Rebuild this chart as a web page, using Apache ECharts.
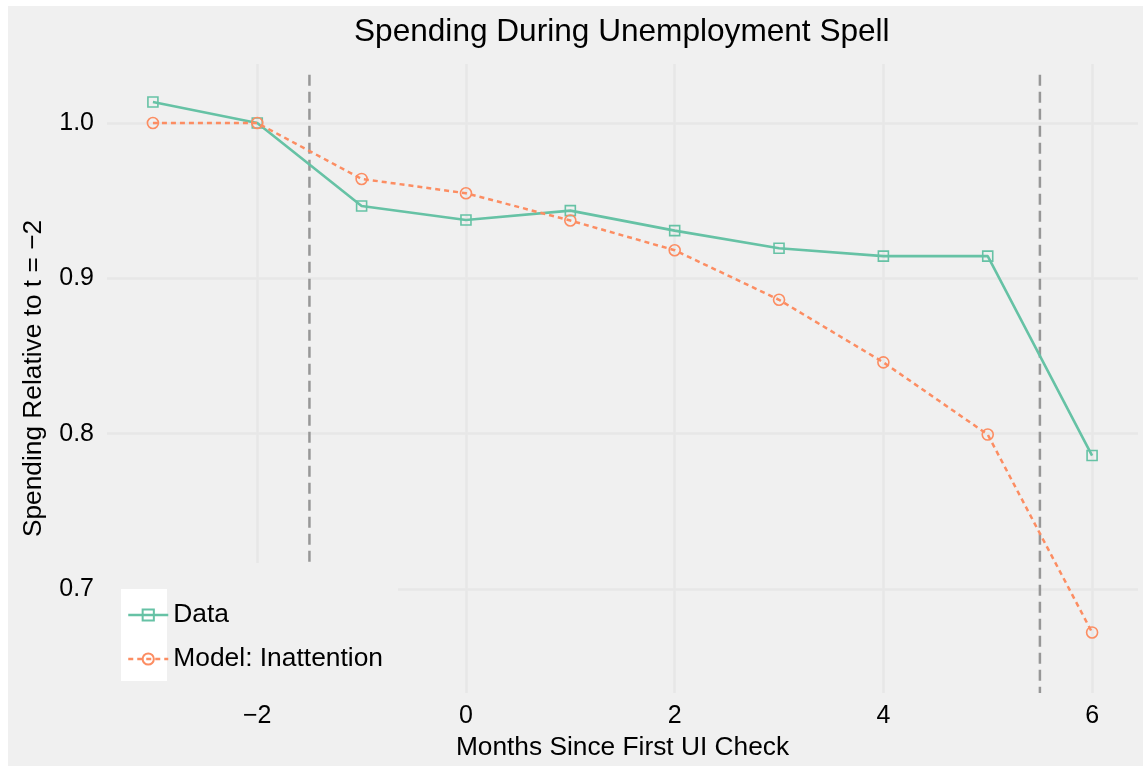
<!DOCTYPE html>
<html>
<head>
<meta charset="utf-8">
<script src="https://cdn.jsdelivr.net/npm/echarts@6/dist/echarts.min.js"></script>
<style>
  html, body { margin: 0; padding: 0; background: #ffffff; }
  #main { position: absolute; left: 8px; top: 6px; width: 1135px; height: 760px; }
</style>
</head>
<body>
<div id="main"></div>
<script>
// ---- data ----
const months = [-3, -2, -1, 0, 1, 2, 3, 4, 5, 6];
const dataValues = [1.0135, 1.0, 0.9466, 0.9376, 0.9436, 0.9307, 0.9194, 0.9143, 0.9143, 0.7859];
const modelValues = [1.0, 1.0, 0.964, 0.9548, 0.9372, 0.9181, 0.8862, 0.8459, 0.7994, 0.672];
const xTicks = [-2, 0, 2, 4, 6];
const yTicks = [0.7, 0.8, 0.9, 1.0];
const vlineX = [-1.5, 5.5];
const vlineY = [1.031, 0.633];
const seriesNames = ['Data', 'Model: Inattention'];
const titleText = 'Spending During Unemployment Spell';
const xTitle = 'Months Since First UI Check';
const yTitle = 'Spending Relative to t = \u22122';

const FONT = 'Liberation Sans, Arial, Helvetica, sans-serif';
const green = '#66c2a5';
const orange = '#fc8d62';
const gridCol = '#e7e7e7';
const fmtMinus = v => String(v).replace('-', '\u2212');

const chart = echarts.init(document.getElementById('main'), null, { renderer: 'canvas' });

const vlineSeries = vlineX.map(x => ({
  type: 'line',
  data: vlineY.map(y => [x, y]),
  symbol: 'none',
  silent: true,
  z: 1,
  lineStyle: { color: '#979797', width: 2.5, type: [11, 6] },
  emphasis: { disabled: true }
}));

chart.setOption({
  backgroundColor: '#f0f0f0',
  animation: false,
  title: {
    text: titleText,
    left: 346,
    top: 10,
    padding: 0,
    textStyle: { fontFamily: FONT, fontSize: 31.6, fontWeight: 'normal', color: '#000' }
  },
  grid: { left: 99, right: 5, top: 58, bottom: 72 },
  xAxis: {
    type: 'value',
    min: -3.44,
    max: 6.44,
    name: xTitle,
    nameLocation: 'middle',
    nameGap: 42,
    nameTextStyle: { fontFamily: FONT, fontSize: 26.3, color: '#000' },
    axisLine: { show: false },
    axisTick: { show: false, customValues: xTicks },
    axisLabel: {
      customValues: xTicks,
      margin: 11,
      fontFamily: FONT, fontSize: 25, color: '#000',
      formatter: fmtMinus
    },
    splitLine: { show: true, lineStyle: { color: gridCol, width: 2.5 } }
  },
  yAxis: {
    type: 'value',
    min: 0.633,
    max: 1.038,
    name: yTitle,
    nameLocation: 'middle',
    nameGap: 60,
    nameTextStyle: { fontFamily: FONT, fontSize: 26.3, color: '#000' },
    axisLine: { show: false },
    axisTick: { show: false, customValues: yTicks },
    axisLabel: {
      customValues: yTicks,
      margin: 13,
      fontFamily: FONT, fontSize: 25, color: '#000',
      formatter: v => v.toFixed(1)
    },
    splitLine: { show: true, lineStyle: { color: gridCol, width: 2.5 } }
  },
  legend: {
    data: seriesNames,
    orient: 'vertical',
    left: 119,
    top: 596,
    padding: 0,
    itemGap: 18,
    itemWidth: 40,
    itemHeight: 14,
    z: 20,
    lineStyle: { width: 2.5 },
    textStyle: { fontFamily: FONT, fontSize: 26.4, color: '#000' },
    selectedMode: false
  },
  graphic: [
    { type: 'rect', z: 10, silent: true, shape: { x: 99, y: 557, width: 291, height: 131 }, style: { fill: '#f0f0f0' } },
    { type: 'rect', z: 11, silent: true, shape: { x: 113, y: 583, width: 46, height: 92 }, style: { fill: '#ffffff' } }
  ],
  series: [
    ...vlineSeries,
    {
      name: seriesNames[0],
      type: 'line',
      data: months.map((m, i) => [m, dataValues[i]]),
      symbol: 'rect',
      symbolSize: 10,
      z: 3,
      lineStyle: { color: green, width: 2.6, type: 'solid' },
      itemStyle: { color: 'rgba(0,0,0,0)', borderColor: green, borderWidth: 1.6 },
      emphasis: { disabled: true }
    },
    {
      name: seriesNames[1],
      type: 'line',
      data: months.map((m, i) => [m, modelValues[i]]),
      symbol: 'circle',
      symbolSize: 11,
      z: 4,
      lineStyle: { color: orange, width: 2.5, type: [5, 4] },
      itemStyle: { color: 'rgba(0,0,0,0)', borderColor: orange, borderWidth: 1.6 },
      emphasis: { disabled: true }
    }
  ]
});
</script>
</body>
</html>
